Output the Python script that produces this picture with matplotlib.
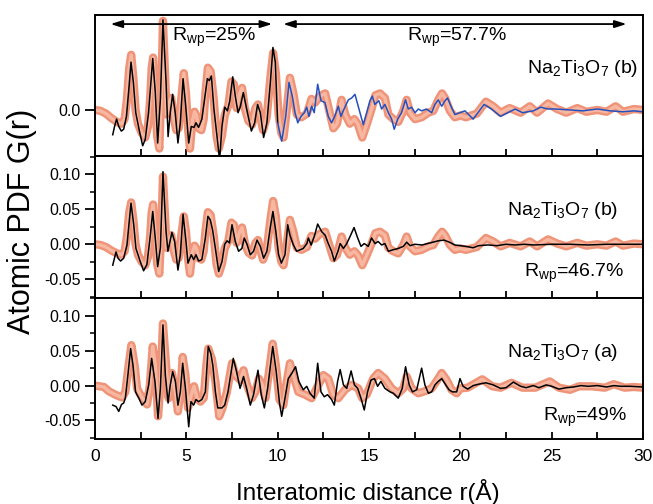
import numpy as np
import matplotlib
matplotlib.use('Agg')
import matplotlib.pyplot as plt
from matplotlib.ticker import MultipleLocator, FormatStrFormatter, FixedLocator

plt.rcParams['font.family'] = ['Liberation Sans', 'DejaVu Sans']
plt.rcParams['mathtext.fontset'] = 'custom'
plt.rcParams['mathtext.rm'] = 'Liberation Sans'
plt.rcParams['mathtext.it'] = 'Liberation Sans:italic'
plt.rcParams['axes.linewidth'] = 1.4

# measured G(r), sample (b)  -- (r [A], G)
exp_b = np.array([
    (0.0, 0.000), (0.3, -0.001), (0.6, -0.004), (0.9, -0.009), (1.2, -0.013), (1.45, -0.015),
    (1.62, -0.010), (1.75, 0.012), (1.87, 0.045), (1.98, 0.060), (2.1, 0.035), (2.22, 0.0),
    (2.35, -0.015), (2.55, -0.025), (2.75, -0.030), (2.9, -0.018), (3.02, 0.012), (3.1, 0.045),
    (3.18, 0.057), (3.28, 0.02), (3.4, -0.028), (3.52, -0.042), (3.63, 0.02), (3.72, 0.097),
    (3.82, 0.045), (3.92, -0.005), (4.05, 0.008), (4.17, 0.013), (4.3, -0.008), (4.45, -0.022),
    (4.58, -0.02), (4.72, 0.012), (4.86, 0.040), (4.98, 0.018), (5.1, -0.022), (5.2, -0.042),
    (5.33, -0.012), (5.45, -0.002), (5.55, -0.006), (5.68, -0.02), (5.82, -0.022), (5.95, -0.01),
    (6.05, 0.02), (6.18, 0.046), (6.33, 0.042), (6.5, 0.012), (6.65, -0.028), (6.78, -0.042),
    (6.95, -0.028), (7.1, -0.006), (7.3, 0.005), (7.47, 0.031), (7.6, 0.028), (7.75, 0.002),
    (7.92, 0.018), (8.05, 0.024), (8.2, 0.002), (8.4, -0.012), (8.6, -0.016), (8.78, 0.002),
    (8.92, 0.006), (9.05, -0.008), (9.2, -0.022), (9.4, -0.008), (9.6, 0.035), (9.75, 0.062),
    (9.9, 0.04), (10.05, -0.005), (10.2, -0.025), (10.32, -0.030), (10.5, 0.0), (10.67, 0.035),
    (10.86, 0.018), (11.05, -0.005), (11.3, -0.008), (11.6, -0.004), (11.85, 0.012), (12.05, 0.008),
    (12.3, 0.015), (12.6, 0.018), (12.85, -0.003), (13.05, -0.020), (13.25, -0.015), (13.5, 0.011),
    (13.7, -0.005), (13.95, -0.015), (14.2, -0.010), (14.4, -0.016), (14.63, -0.030), (14.87, -0.016),
    (15.14, 0.001), (15.35, 0.016), (15.6, 0.018), (15.87, 0.013), (16.06, -0.005), (16.33, -0.010),
    (16.6, -0.013), (16.88, -0.001), (17.06, 0.011), (17.24, -0.003), (17.52, -0.010), (17.88, -0.008),
    (18.25, -0.003), (18.52, -0.001), (18.79, 0.011), (19.0, 0.018), (19.16, 0.013), (19.43, -0.001),
    (19.7, -0.008), (20.0, -0.006), (20.3, -0.008), (20.9, -0.004), (21.4, 0.009), (21.8, 0.004),
    (22.2, -0.003), (22.7, 0.002), (23.3, -0.003), (23.8, 0.004), (24.2, -0.003), (24.8, 0.007),
    (25.3, 0.001), (25.8, -0.003), (26.4, 0.002), (26.9, -0.002), (27.5, 0.0), (28.0, -0.002),
    (28.5, 0.004), (28.9, -0.002), (29.5, 0.001), (30.0, 0.0),
])

# refinement of sample (b) over the full range
fit_b = np.array([
    (0.97, -0.030), (1.15, -0.011), (1.26, -0.020), (1.4, -0.024), (1.57, -0.020), (1.75, -0.001),
    (1.97, 0.059), (2.12, 0.028), (2.24, -0.006), (2.48, -0.025), (2.66, -0.038), (2.84, -0.029),
    (3.03, 0.013), (3.16, 0.047), (3.3, 0.008), (3.43, -0.032), (3.58, -0.005), (3.72, 0.104),
    (3.89, 0.018), (3.99, -0.010), (4.21, 0.017), (4.36, 0.004), (4.54, -0.037), (4.67, -0.015),
    (4.82, 0.043), (4.98, 0.004), (5.09, -0.027), (5.27, -0.015), (5.4, -0.022), (5.53, -0.015),
    (5.67, -0.024), (5.85, -0.022), (6.04, 0.009), (6.18, 0.040), (6.31, 0.035), (6.44, 0.020),
    (6.59, -0.006), (6.77, -0.039), (6.95, -0.025), (7.1, 0.0), (7.23, 0.005), (7.36, 0.002),
    (7.5, 0.028), (7.68, 0.004), (7.86, -0.010), (8.04, -0.006), (8.17, 0.009), (8.32, 0.0),
    (8.5, -0.015), (8.68, -0.010), (8.87, 0.006), (9.05, -0.003), (9.23, -0.020), (9.41, -0.010),
    (9.6, 0.025), (9.74, 0.047), (9.9, 0.018), (10.05, -0.015), (10.2, -0.027), (10.4, -0.015),
    (10.55, 0.028), (10.67, 0.013), (10.86, -0.001), (11.04, -0.010), (11.22, -0.008), (11.4, -0.006),
    (11.6, 0.001), (11.68, 0.009), (11.83, -0.001), (12.0, 0.011), (12.19, 0.029), (12.41, 0.018),
    (12.6, 0.013), (12.77, 0.001), (12.95, -0.010), (13.1, -0.024), (13.3, -0.010), (13.42, 0.001),
    (13.6, -0.006), (13.78, 0.001), (13.96, 0.011), (14.18, 0.024), (14.38, 0.009), (14.56, -0.003),
    (14.74, 0.001), (14.96, -0.003), (15.14, 0.009), (15.33, 0.001), (15.5, 0.004), (15.69, -0.001),
    (15.87, 0.001), (16.06, -0.010), (16.3, -0.008), (16.6, -0.006), (16.88, -0.003), (17.06, 0.003),
    (17.25, -0.002), (17.5, 0.0), (17.9, -0.001), (18.2, 0.001), (18.5, 0.003), (18.8, 0.005),
    (19.1, 0.006), (19.4, 0.003), (19.7, -0.001), (20.0, -0.002), (20.3, -0.003), (20.7, -0.005),
    (21.0, -0.002), (21.5, -0.001), (22.0, -0.002), (22.5, 0.0), (23.0, -0.001), (23.5, 0.0),
    (24.0, -0.001), (25.0, 0.0), (26.0, 0.0), (27.0, -0.001), (28.0, 0.0), (29.0, 0.0), (30.0, 0.0),
])

# two-range refinement of sample (b): short range up to 10 A ...
fit_b_short = np.array([
    (0.97, -0.027), (1.07, -0.018), (1.18, -0.010), (1.3, -0.018), (1.44, -0.023), (1.57, -0.021),
    (1.72, -0.007), (1.85, 0.022), (1.97, 0.052), (2.1, 0.030), (2.23, -0.003), (2.41, -0.021),
    (2.61, -0.039), (2.75, -0.032), (2.93, -0.003), (3.16, 0.056), (3.3, 0.019), (3.43, -0.036),
    (3.58, 0.012), (3.72, 0.098), (3.89, 0.030), (4.0, -0.029), (4.12, -0.003), (4.25, 0.017),
    (4.39, -0.003), (4.54, -0.036), (4.67, -0.014), (4.82, 0.034), (4.95, 0.008), (5.13, -0.036),
    (5.27, -0.018), (5.42, -0.019), (5.53, -0.014), (5.67, -0.019), (5.85, -0.010), (6.0, 0.012),
    (6.15, 0.034), (6.26, 0.032), (6.37, 0.037), (6.51, 0.001), (6.68, -0.029), (6.82, -0.055),
    (6.95, -0.018), (7.1, 0.003), (7.25, -0.001), (7.38, 0.010), (7.54, 0.036), (7.68, 0.015),
    (7.83, -0.003), (7.96, 0.004), (8.12, 0.019), (8.3, 0.001), (8.56, -0.023), (8.74, -0.014),
    (8.9, 0.006), (9.05, -0.003), (9.23, -0.030), (9.41, -0.014), (9.6, 0.030), (9.74, 0.068),
    (9.87, 0.052), (10.0, -0.014),
])

# ... and long range from 10 A
fit_b_long = np.array([
    (10.0, -0.014), (10.22, -0.034), (10.44, -0.007), (10.62, 0.030), (10.8, 0.015), (10.95, -0.003),
    (11.1, -0.014), (11.28, -0.007), (11.46, -0.003), (11.59, 0.003), (11.71, -0.007), (11.86, 0.004),
    (12.0, -0.003), (12.19, 0.028), (12.37, 0.010), (12.59, 0.008), (12.77, -0.007), (12.95, -0.014),
    (13.1, -0.008), (13.32, 0.004), (13.46, -0.007), (13.68, 0.003), (13.87, 0.011), (14.05, 0.013),
    (14.23, 0.017), (14.41, 0.004), (14.56, -0.007), (14.69, -0.016), (14.87, -0.003), (15.05, 0.010),
    (15.18, 0.015), (15.32, 0.006), (15.54, 0.010), (15.69, 0.001), (15.87, 0.006), (16.06, -0.003),
    (16.24, -0.010), (16.38, -0.021), (16.57, -0.010), (16.78, -0.003), (17.0, 0.011), (17.15, 0.001),
    (17.33, 0.003), (17.52, -0.003), (17.7, 0.001), (17.88, -0.001), (18.15, 0.001), (18.43, -0.003),
    (18.61, 0.006), (18.79, 0.011), (18.98, 0.004), (19.16, 0.010), (19.3, 0.013), (19.49, 0.004),
    (19.7, -0.005), (19.98, -0.003), (20.25, -0.001), (20.7, -0.010), (21.3, 0.006), (21.7, 0.001),
    (22.2, -0.007), (22.6, -0.003), (23.0, 0.001), (23.4, -0.003), (24.0, -0.001), (24.4, 0.003),
    (24.8, 0.001), (25.2, 0.001), (26.0, 0.0), (26.7, -0.001), (27.5, 0.001), (28.2, -0.001),
    (28.9, -0.002), (29.5, -0.001), (30.0, -0.002),
])

# measured G(r), sample (a)
exp_a = np.array([
    (0.0, 0.0), (0.49, -0.002), (0.75, -0.008), (1.11, -0.013), (1.48, -0.017), (1.66, -0.009),
    (1.84, 0.029), (1.99, 0.058), (2.17, 0.029), (2.3, -0.004), (2.48, -0.013), (2.66, -0.020),
    (2.85, -0.027), (3.0, 0.0), (3.16, 0.056), (3.3, 0.029), (3.45, -0.044), (3.58, 0.001),
    (3.72, 0.089), (3.89, 0.029), (4.03, -0.018), (4.21, 0.018), (4.4, -0.009), (4.54, -0.037),
    (4.67, -0.009), (4.8, 0.041), (4.95, 0.015), (5.09, -0.032), (5.27, -0.013), (5.42, -0.001),
    (5.58, -0.018), (5.77, -0.023), (5.95, -0.018), (6.1, 0.03), (6.2, 0.053), (6.4, 0.038),
    (6.59, 0.006), (6.8, -0.044), (6.98, -0.032), (7.22, -0.009), (7.5, 0.032), (7.68, 0.015),
    (7.95, 0.008), (8.13, 0.022), (8.32, 0.001), (8.59, -0.018), (8.78, -0.009), (8.97, 0.010),
    (9.16, 0.001), (9.33, -0.018), (9.5, 0.015), (9.73, 0.060), (9.9, 0.029), (10.1, -0.020),
    (10.31, -0.028), (10.5, 0.006), (10.67, 0.032), (10.86, 0.015), (11.13, -0.009), (11.5, -0.013),
    (11.86, -0.018), (12.13, -0.004), (12.5, 0.015), (12.77, 0.010), (13.04, -0.013), (13.32, -0.018),
    (13.68, -0.006), (14.05, 0.001), (14.41, -0.004), (14.63, -0.018), (14.87, -0.013), (15.23, 0.010),
    (15.5, 0.018), (15.87, 0.010), (16.24, -0.004), (16.6, -0.011), (16.88, -0.004), (17.06, 0.013),
    (17.33, -0.004), (17.7, -0.011), (18.06, -0.008), (18.43, -0.004), (18.79, 0.010), (18.98, 0.018),
    (19.25, 0.008), (19.52, -0.006), (19.8, -0.011), (20.0, -0.004), (20.4, -0.003), (21.2, 0.009),
    (21.75, -0.001), (22.2, -0.003), (22.8, 0.004), (23.4, -0.003), (24.1, -0.003), (24.9, 0.006),
    (25.4, -0.003), (26.0, -0.006), (26.5, -0.001), (27.2, -0.001), (27.9, -0.003), (28.4, 0.002),
    (29.0, -0.003), (29.5, -0.002), (30.0, -0.003),
])

# refinement of sample (a)
fit_a = np.array([
    (0.97, -0.028), (1.15, -0.030), (1.3, -0.037), (1.45, -0.027), (1.57, -0.025), (1.66, -0.018),
    (1.8, 0.015), (1.95, 0.053), (2.08, 0.029), (2.22, -0.009), (2.4, -0.018), (2.57, -0.028),
    (2.75, -0.023), (2.94, 0.001), (3.1, 0.039), (3.28, 0.006), (3.45, -0.047), (3.58, -0.004),
    (3.72, 0.087), (3.85, 0.015), (4.0, -0.025), (4.12, 0.001), (4.25, 0.020), (4.4, 0.006),
    (4.54, -0.028), (4.67, -0.009), (4.8, 0.032), (4.95, -0.004), (5.13, -0.059), (5.25, -0.023),
    (5.4, -0.028), (5.53, -0.020), (5.67, -0.023), (5.85, -0.020), (6.04, -0.009), (6.2, 0.056),
    (6.34, 0.046), (6.45, 0.029), (6.59, -0.009), (6.72, -0.032), (6.95, -0.032), (7.1, -0.028),
    (7.28, -0.009), (7.57, 0.039), (7.75, 0.020), (7.94, -0.004), (8.13, 0.013), (8.3, -0.004),
    (8.5, -0.028), (8.68, -0.013), (8.92, 0.022), (9.1, -0.013), (9.27, -0.032), (9.45, -0.004),
    (9.73, 0.056), (9.92, 0.020), (10.1, -0.025), (10.22, -0.044), (10.4, -0.018), (10.58, 0.010),
    (10.76, 0.017), (10.98, 0.027), (11.16, 0.006), (11.4, -0.006), (11.59, -0.001), (11.77, -0.011),
    (12.0, -0.018), (12.19, 0.032), (12.37, -0.009), (12.55, -0.016), (12.73, -0.013), (12.95, -0.020),
    (13.1, -0.028), (13.28, 0.006), (13.42, 0.023), (13.6, 0.001), (13.78, -0.004), (14.02, 0.021),
    (14.2, 0.001), (14.38, -0.004), (14.56, -0.018), (14.74, -0.035), (14.92, -0.009), (15.11, 0.008),
    (15.3, 0.010), (15.47, -0.001), (15.65, 0.006), (15.87, -0.004), (16.15, -0.009), (16.33, -0.011),
    (16.6, -0.018), (16.82, -0.004), (17.0, 0.027), (17.2, 0.001), (17.38, -0.009), (17.61, -0.006),
    (17.88, 0.025), (18.06, 0.001), (18.25, -0.011), (18.43, -0.009), (18.61, 0.001), (18.79, 0.006),
    (18.98, 0.010), (19.2, 0.001), (19.38, -0.006), (19.56, -0.009), (19.8, -0.009), (19.98, 0.010),
    (20.15, -0.001), (20.4, -0.005), (20.7, 0.0), (21.0, 0.002), (21.4, 0.004), (21.8, 0.001),
    (22.2, -0.004), (22.5, -0.003), (22.9, 0.005), (23.3, -0.001), (23.6, -0.003), (24.0, 0.0),
    (24.3, -0.003), (24.7, 0.001), (25.0, -0.001), (25.4, -0.005), (25.8, -0.003), (26.2, -0.002),
    (26.6, 0.0), (27.0, -0.001), (27.5, 0.0), (28.0, -0.002), (28.4, 0.0), (28.8, -0.001),
    (29.3, -0.001), (30.0, -0.002),
])

EXP_EDGE = '#ec7a58'
EXP_FILL = '#f7b8a2'


def plot_exp(ax, d):
    # open-circle data drawn as a salmon band with a lighter core
    ax.plot(d[:, 0], d[:, 1], color=EXP_EDGE, lw=6.0, alpha=0.8,
            solid_joinstyle='round', solid_capstyle='round')
    ax.plot(d[:, 0], d[:, 1], color=EXP_FILL, lw=2.4,
            solid_joinstyle='round', solid_capstyle='round')


fig = plt.figure(figsize=(6.53, 5.04), dpi=100)
gs = fig.add_gridspec(3, 1, left=0.1455, right=0.9847, top=0.9702, bottom=0.129, hspace=0)
ax_top = fig.add_subplot(gs[0])
ax_mid = fig.add_subplot(gs[1], sharex=ax_top)
ax_bot = fig.add_subplot(gs[2], sharex=ax_top)

# top: same data, two-range fit
plot_exp(ax_top, exp_b)
ax_top.plot(fit_b_short[:, 0], fit_b_short[:, 1], color='black', lw=1.1)
ax_top.plot(fit_b_long[:, 0], fit_b_long[:, 1], color='#2350c0', lw=1.1)
ax_top.set_ylim(-0.0505, 0.1033)
ax_top.yaxis.set_major_locator(FixedLocator([0.0]))
ax_top.yaxis.set_major_formatter(FormatStrFormatter('%.1f'))

plot_exp(ax_mid, exp_b)
ax_mid.plot(fit_b[:, 0], fit_b[:, 1], color='black', lw=1.1)

plot_exp(ax_bot, exp_a)
ax_bot.plot(fit_a[:, 0], fit_a[:, 1], color='black', lw=1.1)

for ax in (ax_mid, ax_bot):
    ax.set_ylim(-0.0765, 0.126)
    ax.yaxis.set_major_locator(MultipleLocator(0.05))
    ax.yaxis.set_minor_locator(MultipleLocator(0.025))
    ax.yaxis.set_major_formatter(FormatStrFormatter('%.2f'))

for ax in (ax_top, ax_mid, ax_bot):
    ax.set_xlim(0, 30)
    ax.xaxis.set_major_locator(MultipleLocator(5))
    ax.xaxis.set_minor_locator(MultipleLocator(2.5))
    ax.tick_params(axis='x', which='both', direction='in', length=5, width=1.3, top=False,
                   labelsize=12.5, pad=7)
    ax.tick_params(axis='y', which='major', direction='out', length=7, width=1.3, labelsize=11.5)
    ax.tick_params(axis='y', which='minor', direction='out', length=3.5, width=1.1)

ax_top.tick_params(axis='x', labelbottom=False)
ax_mid.tick_params(axis='x', labelbottom=False)

# double-headed range arrows
arrow_kw = dict(arrowstyle='<|-|>,head_length=0.7,head_width=0.22', lw=1.3, color='black',
                shrinkA=0, shrinkB=0)
ax_top.annotate('', xy=(0.85, 0.936), xytext=(9.7, 0.936),
                xycoords=('data', 'axes fraction'), arrowprops=arrow_kw)
ax_top.annotate('', xy=(10.3, 0.936), xytext=(29.1, 0.936),
                xycoords=('data', 'axes fraction'), arrowprops=arrow_kw)

txt = dict(fontsize=14, ha='center', va='center')
ax_top.text(6.5, 0.84, r'R$_{\mathrm{wp}}$=25%', transform=ax_top.get_xaxis_transform(), **txt)
ax_top.text(19.8, 0.84, r'R$_{\mathrm{wp}}$=57.7%', transform=ax_top.get_xaxis_transform(), **txt)
ax_top.text(26.7, 0.62, r'Na$_2$Ti$_3$O$_7$ (b)', transform=ax_top.get_xaxis_transform(), **txt)

ax_mid.text(25.6, 0.62, r'Na$_2$Ti$_3$O$_7$ (b)', transform=ax_mid.get_xaxis_transform(), **txt)
ax_mid.text(26.2, 0.17, r'R$_{\mathrm{wp}}$=46.7%', transform=ax_mid.get_xaxis_transform(), **txt)

ax_bot.text(25.6, 0.61, r'Na$_2$Ti$_3$O$_7$ (a)', transform=ax_bot.get_xaxis_transform(), **txt)
ax_bot.text(26.8, 0.15, r'R$_{\mathrm{wp}}$=49%', transform=ax_bot.get_xaxis_transform(), **txt)

fig.text(0.5636, 0.024, 'Interatomic distance r(\u00c5)', fontsize=17.5, ha='center', va='center')
fig.text(0.034, 0.5615, 'Atomic PDF G(r)', fontsize=22, ha='center', va='center', rotation=90)

fig.savefig('out.png', dpi=100)
